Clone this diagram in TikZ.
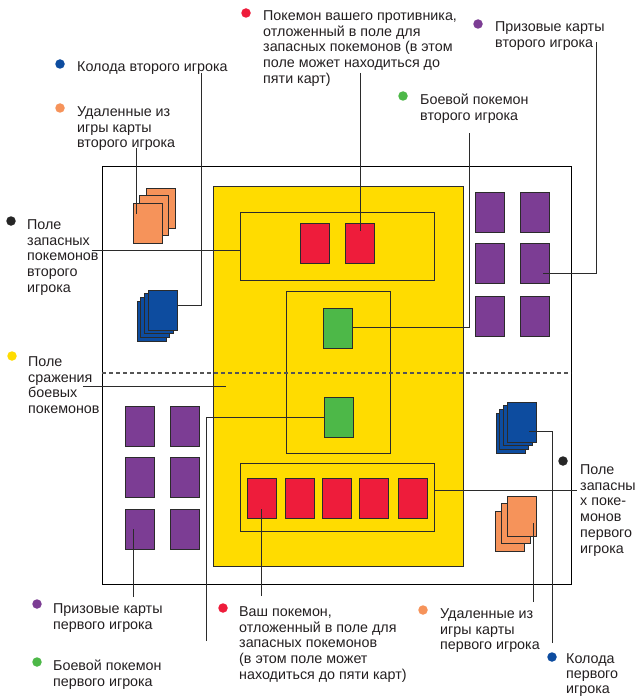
\documentclass[tikz,border=0pt]{standalone}
\usepackage{fontspec}
\setmainfont{Liberation Sans}
\definecolor{cred}{HTML}{EE1C3B}
\definecolor{cgreen}{HTML}{4DB848}
\definecolor{cpurple}{HTML}{7C3D94}
\definecolor{cblue}{HTML}{0D4C9F}
\definecolor{corange}{HTML}{F6935A}
\definecolor{cyellow}{HTML}{FFDC00}
\definecolor{cline}{HTML}{2B2B2B}
\definecolor{ctext}{HTML}{231F20}
\begin{document}
\begin{tikzpicture}[x=1pt,y=-1pt,
  card/.style={draw=cline, line width=1pt, anchor=north west, minimum width=29pt, minimum height=40pt, inner sep=0pt, outer sep=0pt},
  zone/.style={draw=cline, line width=0.9pt, anchor=north west, inner sep=0pt, outer sep=0pt},
  lbl/.style={anchor=north west, inner sep=0pt, align=left, text=ctext, font=\fontsize{14.3}{15.8}\selectfont},
  bullet/.style={circle, inner sep=0pt, minimum size=9.5pt},
  leader/.style={draw=cline, line width=0.8pt}]
\useasboundingbox (0,0) rectangle (635,698);

% board
\node[zone, draw=black, line width=1pt, minimum width=469pt, minimum height=418pt] (board) at (102,166) {};
\node[zone, fill=cyellow, minimum width=250pt, minimum height=380pt] (field) at (213,186) {};
\node[zone, minimum width=194pt, minimum height=68pt] (bench2) at (240,212) {};
\node[zone, minimum width=104pt, minimum height=162pt] (active) at (286,291) {};
\node[zone, minimum width=194pt, minimum height=68pt] (bench1) at (240,463) {};
\coordinate (dashL) at (102,373);
\coordinate (dashR) at (571,373);
\draw[draw=cline!80, line width=1.3pt, dash pattern=on 4pt off 3pt] (dashL) -- (dashR);

% opponent bench cards
\node[card, fill=cred] (ob1) at (300,223) {};
\node[card, fill=cred] (ob2) at (345,223) {};
% active cards
\node[card, fill=cgreen] (oa) at (323,308) {};
\node[card, fill=cgreen] (ma) at (324,397) {};
% my bench cards
\node[card, fill=cred] (mb1) at (247,478) {};
\node[card, fill=cred] (mb2) at (285,478) {};
\node[card, fill=cred] (mb3) at (322,478) {};
\node[card, fill=cred] (mb4) at (359,478) {};
\node[card, fill=cred] (mb5) at (398,478) {};

% opponent prize cards
\node[card, fill=cpurple] (op1) at (475,192) {};
\node[card, fill=cpurple] (op2) at (520,192) {};
\node[card, fill=cpurple] (op3) at (475,243) {};
\node[card, fill=cpurple] (op4) at (520,243) {};
\node[card, fill=cpurple] (op5) at (475,296) {};
\node[card, fill=cpurple] (op6) at (520,296) {};
% my prize cards
\node[card, fill=cpurple] (mp1) at (125,406) {};
\node[card, fill=cpurple] (mp2) at (170,406) {};
\node[card, fill=cpurple] (mp3) at (125,457) {};
\node[card, fill=cpurple] (mp4) at (170,457) {};
\node[card, fill=cpurple] (mp5) at (125,509) {};
\node[card, fill=cpurple] (mp6) at (170,509) {};

% opponent removed cards
\node[card, fill=corange] (or3) at (146,188) {};
\node[card, fill=corange] (or2) at (139.5,195.5) {};
\node[card, fill=corange] (or1) at (133,203) {};
% opponent deck
\node[card, fill=cblue] (od4) at (137,301) {};
\node[card, fill=cblue] (od3) at (140.7,297.3) {};
\node[card, fill=cblue] (od2) at (144.3,293.7) {};
\node[card, fill=cblue] (od1) at (148,290) {};
% my deck
\node[card, fill=cblue] (md4) at (496,413) {};
\node[card, fill=cblue] (md3) at (499.7,409.3) {};
\node[card, fill=cblue] (md2) at (503.3,405.7) {};
\node[card, fill=cblue] (md1) at (507,402) {};
% my removed cards
\node[card, fill=corange] (mr3) at (495,511) {};
\node[card, fill=corange] (mr2) at (501,503.5) {};
\node[card, fill=corange] (mr1) at (507,496) {};

% labels
\node[bullet, fill=cblue] (d1) at (60,64) {};
\node[lbl] (t1) at (77,60) {\strut Колода второго игрока};
\node[bullet, fill=corange] (d2) at (60,108) {};
\node[lbl] (t2) at (77,105) {\strut Удаленные из\\игры карты\\второго игрока};
\node[bullet, fill=cred] (d3) at (246,13) {};
\node[lbl] (t3) at (263,9) {\strut Покемон вашего противника,\\отложенный в поле для\\запасных покемонов (в этом\\поле может находиться до\\пяти карт)};
\node[bullet, fill=cpurple] (d4) at (478,24) {};
\node[lbl] (t4) at (495,20.5) {\strut Призовые карты\\второго игрока};
\node[bullet, fill=cgreen] (d5) at (403,96) {};
\node[lbl] (t5) at (420,93) {\strut Боевой покемон\\второго игрока};
\node[bullet, fill=black!85] (d6) at (11,221) {};
\node[lbl] (t6) at (27,218) {\strut Поле\\запасных\\покемонов\\второго\\игрока};
\node[bullet, fill=cyellow] (d7) at (12,356) {};
\node[lbl] (t7) at (28,355) {\strut Поле\\сражения\\боевых\\покемонов};
\node[bullet, fill=cpurple] (d8) at (37,604) {};
\node[lbl] (t8) at (53,602) {\strut Призовые карты\\первого игрока};
\node[bullet, fill=cgreen] (d9) at (37,662) {};
\node[lbl] (t9) at (53,659) {\strut Боевой покемон\\первого игрока};
\node[bullet, fill=cred] (d10) at (223,608) {};
\node[lbl] (t10) at (239,605) {\strut Ваш покемон,\\отложенный в поле для\\запасных покемонов\\(в этом поле может\\находиться до пяти карт)};
\node[bullet, fill=corange] (d11) at (423,610) {};
\node[lbl] (t11) at (440,607) {\strut Удаленные из\\игры карты\\первого игрока};
\node[bullet, fill=cblue] (d12) at (552,657) {};
\node[lbl, font=\fontsize{14.3}{15}\selectfont] (t12) at (566,653) {\strut Колода\\первого\\игрока};
\node[bullet, fill=black!85] (d13) at (563,461) {};
\node[lbl] (t13) at (580,463) {\strut Поле\\запасны\\х поке-\\монов\\первого\\игрока};

% leader end points
\coordinate (a1) at (201,73);   \coordinate (b1) at (178,305);
\coordinate (a2) at (136,148);  \coordinate (b2) at (136,214);
\coordinate (a3) at (360,73);   \coordinate (b3) at (360,231);
\coordinate (a4) at (596,42);   \coordinate (b4) at (543,273);
\coordinate (a5) at (469,133);  \coordinate (b5) at (352,327);
\coordinate (a6) at (92,250);   \coordinate (b6) at (240,250);
\coordinate (a7) at (83,386);   \coordinate (b7) at (226,386);
\coordinate (a8) at (133,597);  \coordinate (b8) at (133,529);
\coordinate (a9) at (206,641);  \coordinate (b9) at (324,417);
\coordinate (a10) at (261,596); \coordinate (b10) at (261,509);
\coordinate (a11) at (533,602); \coordinate (b11) at (533,523);
\coordinate (a12) at (552,643); \coordinate (b12) at (529,431);
\coordinate (a13) at (577,490); \coordinate (b13) at (434,490);

\draw[leader] (a1) |- (b1);
\draw[leader] (a2) -- (b2);
\draw[leader] (a3) -- (b3);
\draw[leader] (a4) |- (b4);
\draw[leader] (a5) |- (b5);
\draw[leader] (a6) -- (b6);
\draw[leader] (a7) -- (b7);
\draw[leader] (a8) -- (b8);
\draw[leader] (a9) |- (b9);
\draw[leader] (a10) -- (b10);
\draw[leader] (a11) -- (b11);
\draw[leader] (a12) |- (b12);
\draw[leader] (a13) -- (b13);
\end{tikzpicture}
\end{document}
